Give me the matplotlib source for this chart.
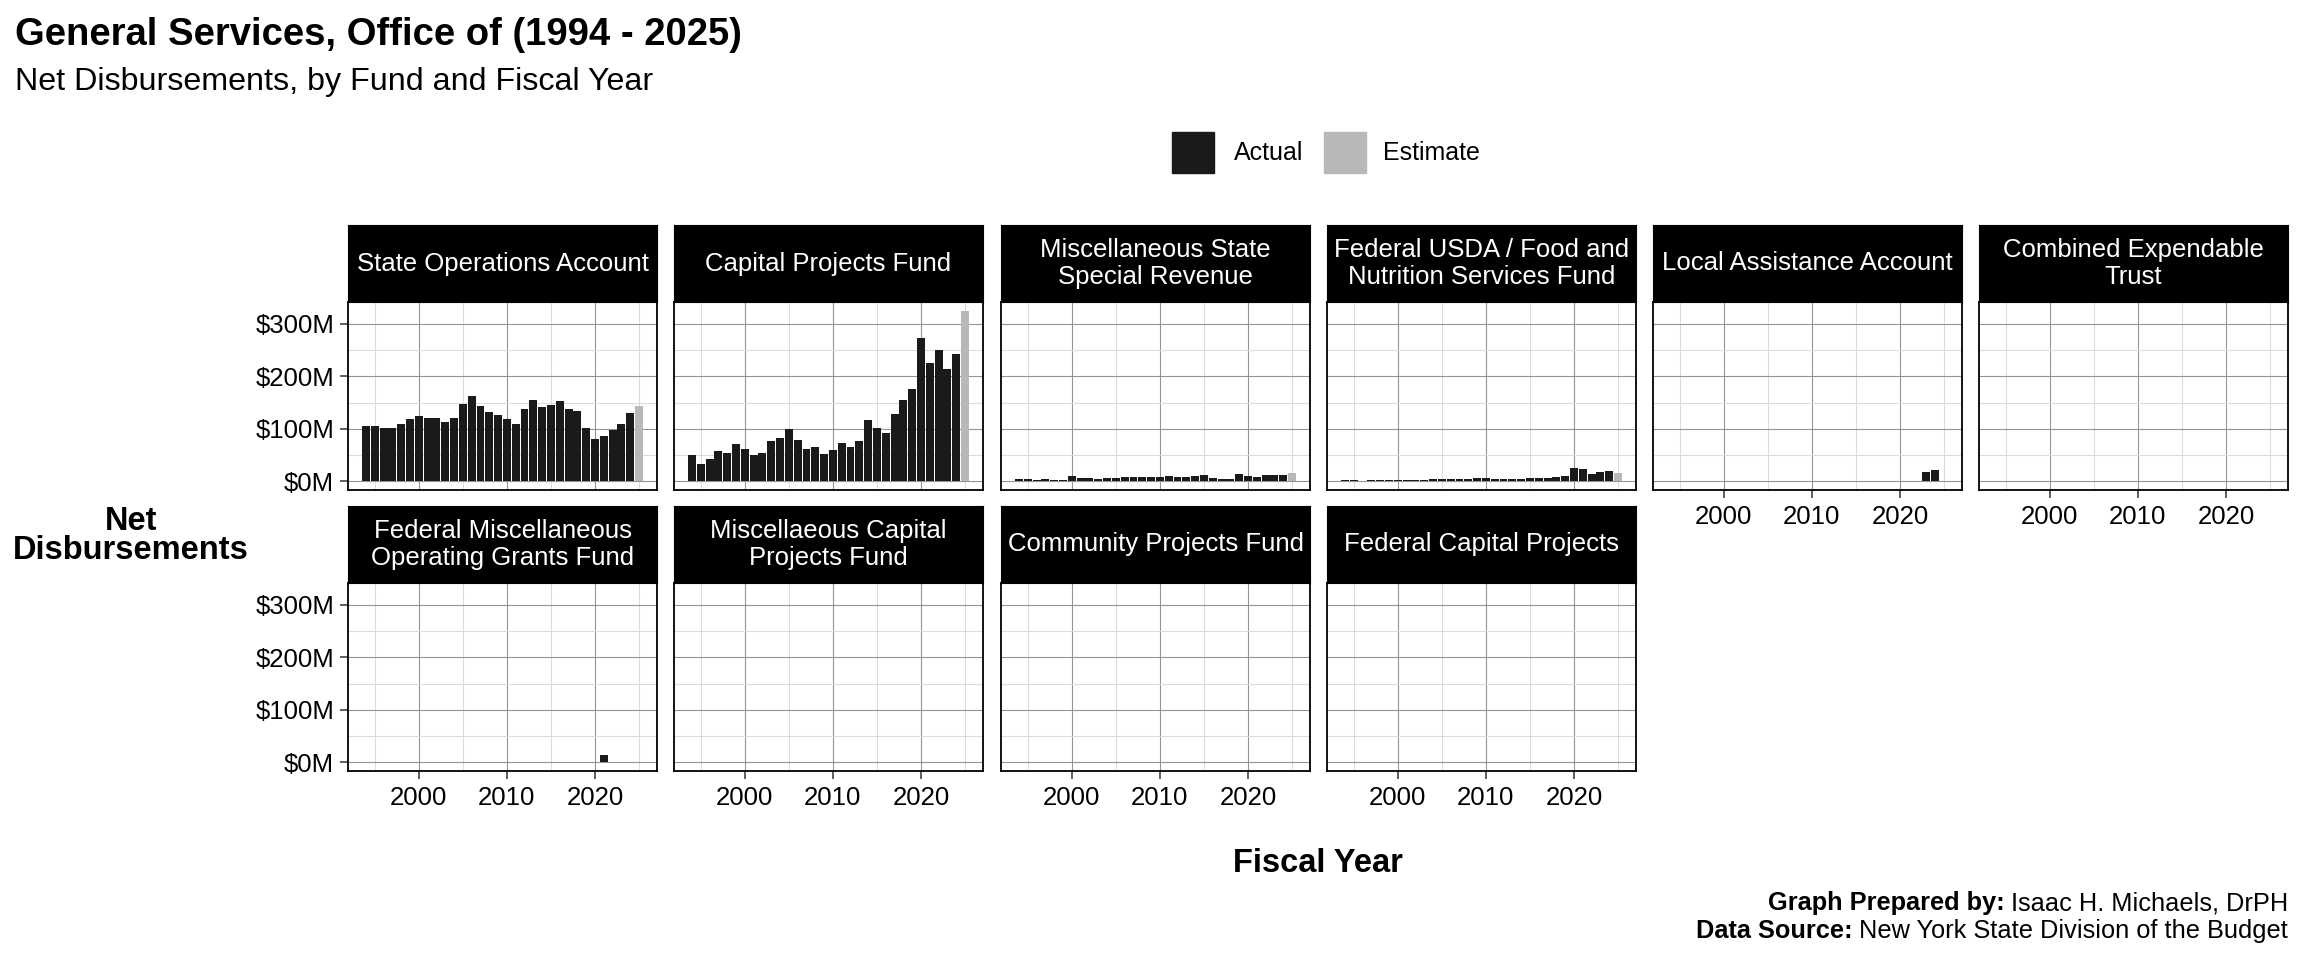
import numpy as np
import matplotlib
matplotlib.use('Agg')
from matplotlib import pyplot as plt
from matplotlib.patches import Rectangle
from matplotlib.ticker import FuncFormatter, MultipleLocator

plt.rcParams['font.family'] = ['Liberation Sans', 'DejaVu Sans']

# fiscal years with actuals, plus the one estimate year
years = list(range(1994, 2025))
est_year = 2025

fund_names = ['State Operations Account', 'Capital Projects Fund',
              'Miscellaneous State\nSpecial Revenue',
              'Federal USDA / Food and\nNutrition Services Fund',
              'Local Assistance Account', 'Combined Expendable\nTrust',
              'Federal Miscellaneous\nOperating Grants Fund',
              'Miscellaeous Capital\nProjects Fund',
              'Community Projects Fund', 'Federal Capital Projects']

# net disbursements, $ millions
state_ops = [106, 106, 102, 102, 110, 119, 125, 121, 121, 113, 121, 147, 163, 144, 132, 127,
             119, 110, 138, 155, 142, 146, 153, 138, 134, 102, 81, 87, 98, 110, 130]
capital_projects = [51, 34, 42, 57, 55, 72, 62, 51, 55, 76, 83, 100, 78, 62, 66, 53,
                    60, 74, 66, 76, 117, 102, 93, 129, 155, 176, 272, 225, 250, 214, 242]
misc_special = [5, 5, 3, 5, 3, 3, 11, 7, 7, 5, 7, 7, 9, 9, 9, 9,
                9, 11, 9, 9, 11, 13, 7, 5, 5, 15, 11, 9, 13, 13, 13]
usda = [3, 3, 1, 3, 3, 3, 3, 3, 3, 3, 5, 5, 5, 5, 5, 7,
        7, 5, 5, 5, 5, 7, 7, 7, 9, 11, 26, 24, 15, 18, 20]
local_assist = [0, 0.6, 0, 0, 0, 0, 0, 0, 0, 0, 0, 0, 0, 0, 0, 0,
                0, 0, 0, 0, 0, 0, 0, 0, 0, 0, 0, 0, 0, 18, 22]
combined_trust = [0.5, 0.5, 0.5, 0.5, 0.5, 0.5, 0.5, 0.5, 0.5, 0.5, 0.5, 0.5, 0.5, 0.5, 0.5, 0,
                  0, 0, 0.5, 0.5, 0.5, 0.5, 0.5, 0, 0, 0.5, 0.5, 0.5, 1.2, 1.2, 1.2]
fed_misc_grants = [0, 0, 0, 0, 0, 0, 0, 1.5, 0.5, 0, 0, 0, 0, 0, 0, 0,
                   0, 0, 0, 0.5, 0, 0, 0, 0, 0, 0, 0, 14, 0, 0, 0]
misc_cap_projects = [0] * 31
community_projects = [0, 0, 0, 0, 0, 0, 0.5, 0, 0, 0, 0, 0, 0.5, 0.5, 0, 0,
                      0, 0, 0, 0, 0, 0, 0, 0, 0, 0, 0, 0, 0, 0, 0]
fed_capital = [0, 1.5, 0, 0, 0, 0, 0, 0, 0, 0, 0, 0, 0, 0, 0, 0,
               0, 0, 0, 0, 0, 0, 0, 0, 0, 0, 0, 0, 0, 0, 0]

actuals = [state_ops, capital_projects, misc_special, usda, local_assist, combined_trust,
           fed_misc_grants, misc_cap_projects, community_projects, fed_capital]
estimates = [144, 325, 16, 16, 0, 0.5, 0, 1.0, 0, 0]

W, H = 2304, 960
fig = plt.figure(figsize=(W / 100, H / 100), dpi=100)


def px_axes(left, top, right, bottom):
    return fig.add_axes([left / W, 1 - bottom / H, (right - left) / W, (bottom - top) / H])


col_left = [348, 674, 1001, 1327, 1653, 1979]
panel_w = 309
row_top = [302, 583]
panel_h = 188
strip_h = 77

money = FuncFormatter(lambda v, p: '$%dM' % v)

for k, name in enumerate(fund_names):
    r, c = divmod(k, 6)
    x0 = col_left[c]
    y0 = row_top[r]
    ax = px_axes(x0, y0, x0 + panel_w, y0 + panel_h)
    ax.bar(years, actuals[k], width=0.9, color='#1a1a1a', linewidth=0)
    if estimates[k] > 0:
        ax.bar([est_year], [estimates[k]], width=0.9, color='#b8b8b8', linewidth=0)
    ax.set_xlim(1991.955, 2027.045)
    ax.set_ylim(-16.25, 341.25)
    ax.set_axisbelow(True)
    ax.xaxis.set_major_locator(MultipleLocator(10))
    ax.xaxis.set_minor_locator(MultipleLocator(5))
    ax.set_yticks([0, 100, 200, 300])
    ax.set_yticks([50, 150, 250], minor=True)
    ax.yaxis.set_major_formatter(money)
    ax.grid(which='major', color='#949494', linewidth=0.8)
    ax.grid(which='minor', color='#dcdcdc', linewidth=0.8)
    for s in ax.spines.values():
        s.set_color('black')
        s.set_linewidth(1.3)
    ax.tick_params(which='minor', length=0)
    ax.tick_params(which='major', length=6, width=1.1, color='#333333',
                   labelsize=18.5, pad=4)
    ax.tick_params(axis='x', pad=5)
    if c != 0:
        ax.tick_params(axis='y', left=False, labelleft=False)
    show_x = (r == 1) or (c >= 4)
    if not show_x:
        ax.tick_params(axis='x', bottom=False, labelbottom=False)

    sa = px_axes(x0, y0 - strip_h, x0 + panel_w, y0)
    sa.set_facecolor('black')
    sa.set_xticks([])
    sa.set_yticks([])
    for s in sa.spines.values():
        s.set_color('black')
    sa.text(0.5, 0.5, name, color='white', fontsize=18.5, ha='center', va='center',
            linespacing=1.12, transform=sa.transAxes)

# titles
fig.text(15 / W, 1 - 45 / H, 'General Services, Office of (1994 - 2025)', fontsize=27.5,
         fontweight='bold', va='baseline', ha='left')
fig.text(15 / W, 1 - 90 / H, 'Net Disbursements, by Fund and Fiscal Year', fontsize=23.2,
         va='baseline', ha='left')

# legend
fig.add_artist(Rectangle((1172 / W, 1 - 173 / H), 42 / W, 41 / H, transform=fig.transFigure,
                         color='#1a1a1a'))
fig.text(1234 / W, 1 - 153 / H, 'Actual', fontsize=18, va='center', ha='left')
fig.add_artist(Rectangle((1324 / W, 1 - 173 / H), 42 / W, 41 / H, transform=fig.transFigure,
                         color='#b8b8b8'))
fig.text(1383 / W, 1 - 153 / H, 'Estimate', fontsize=18, va='center', ha='left')

# axis titles
fig.text(131 / W, 1 - 536 / H, 'Net\nDisbursements', fontsize=23.5, fontweight='bold',
         ha='center', va='center', multialignment='center', linespacing=0.93)
fig.text(1318 / W, 1 - 864 / H, 'Fiscal Year', fontsize=23.5, fontweight='bold',
         ha='center', va='center')

# caption: bold label followed by plain text, right aligned
renderer = fig.canvas.get_renderer()
caption = [('Graph Prepared by:', 'Isaac H. Michaels, DrPH', 903),
           ('Data Source:', 'New York State Division of the Budget', 931)]
for bold_part, plain_part, ypx in caption:
    t = fig.text(2288 / W, 1 - ypx / H, plain_part, fontsize=18.3, ha='right', va='center')
    wpx = t.get_window_extent(renderer).width
    fig.text((2288 - wpx - 6) / W, 1 - ypx / H, bold_part, fontsize=18.3, fontweight='bold',
             ha='right', va='center')

fig.savefig('out.png', dpi=100)
